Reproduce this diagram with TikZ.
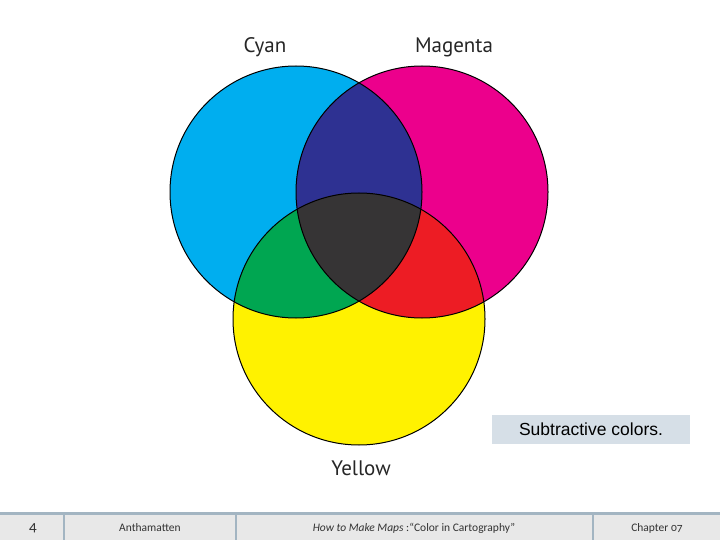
\documentclass[tikz,border=0pt]{standalone}
\usepackage{fontspec}
\setmainfont{PT Sans}
\newfontfamily\capfont{Liberation Sans}
\newfontfamily\footfont[Numbers=OldStyle]{Carlito}
\definecolor{cyanC}{HTML}{00AEEF}
\definecolor{magC}{HTML}{EC008C}
\definecolor{yelC}{HTML}{FFF200}
\definecolor{bluC}{HTML}{2E3192}
\definecolor{grnC}{HTML}{00A651}
\definecolor{redC}{HTML}{ED1C24}
\definecolor{drkC}{HTML}{363435}
\definecolor{footfill}{HTML}{E8E8E8}
\definecolor{footline}{HTML}{A3B5C2}
\definecolor{capfill}{HTML}{D6DFE7}
\tikzset{
  lbl/.style={font=\fontsize{21}{24}\selectfont, text=black!85, inner sep=0pt},
  foot/.style={font=\footfont\fontsize{11.5}{13}\selectfont, text=black!80, inner sep=0pt},
  ring/.style={draw=black, line width=1pt}
}
\begin{document}
\begin{tikzpicture}[x=1pt,y=-1pt]
\useasboundingbox (0,0) rectangle (720,540);
\fill[white] (0,0) rectangle (720,540);
\def\C{(296,192) circle (126)}
\def\M{(422,192) circle (126)}
\def\Y{(359,319) circle (126)}
\fill[cyanC] \C;
\fill[magC] \M;
\fill[yelC] \Y;
\begin{scope}\clip \C; \fill[bluC] \M; \end{scope}
\begin{scope}\clip \C; \fill[grnC] \Y; \end{scope}
\begin{scope}\clip \M; \fill[redC] \Y; \end{scope}
\begin{scope}\clip \C; \clip \M; \fill[drkC] \Y; \end{scope}
\draw[ring] \C;
\draw[ring] \M;
\draw[ring] \Y;
\node[lbl] (cyan) at (265,47) {Cyan};
\node[lbl] (magenta) at (454,47) {Magenta};
\node[lbl] (yellow) at (361,468) {Yellow};
\node[fill=capfill, minimum width=198pt, minimum height=29pt, inner sep=0pt,
      font=\capfont\fontsize{17.5}{20}\selectfont] (cap) at (591,429.5) {Subtractive colors.};
% footer
\fill[footfill] (0,513) rectangle (720,540);
\draw[footline, line width=3pt] (0,513) -- (720,513);
\foreach \xx in {64,236,593} \draw[footline, line width=2.5pt] (\xx,513) -- (\xx,540);
\node[foot, font=\footfont\fontsize{15}{17}\selectfont] (pg) at (33,528) {4};
\node[foot] (auth) at (150,528) {Anthamatten};
\node[foot] (title) at (414,528) {\textit{How to Make Maps} :“Color in Cartography”};
\node[foot] (chap) at (657,528) {Chapter 07};
\end{tikzpicture}
\end{document}
